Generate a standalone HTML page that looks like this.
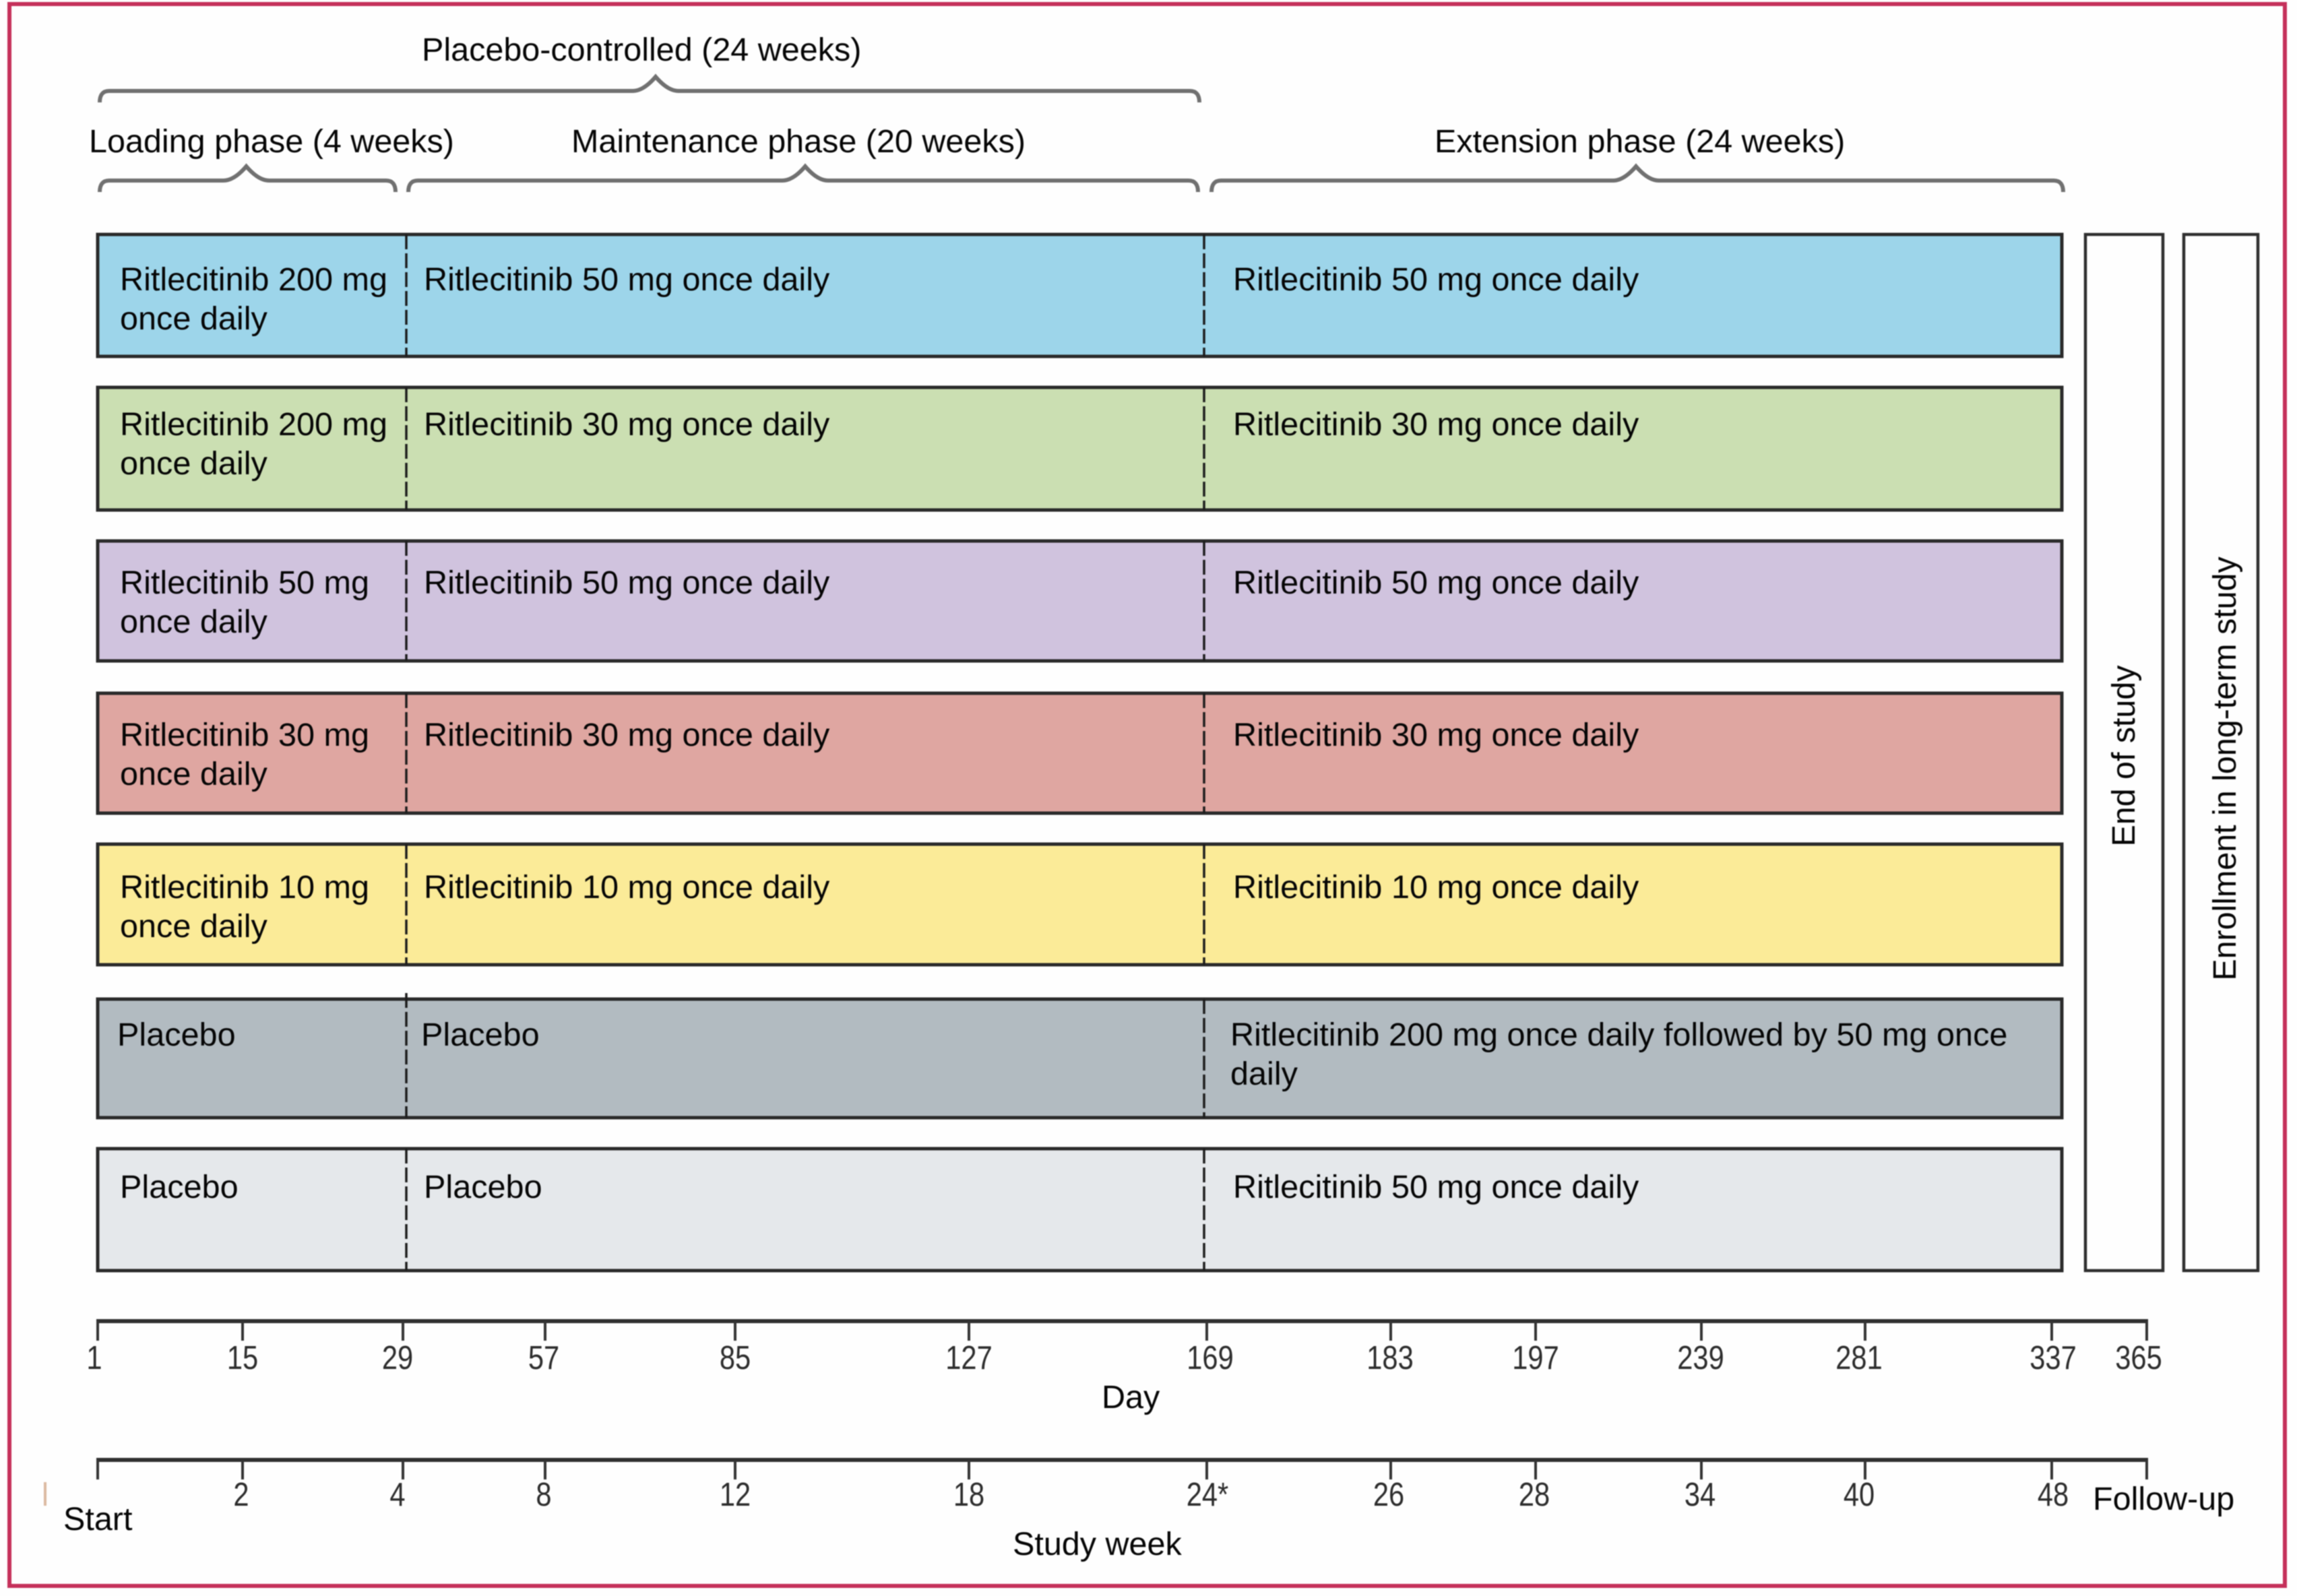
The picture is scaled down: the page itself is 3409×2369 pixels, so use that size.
<!DOCTYPE html>
<html lang="en">
<head>
<meta charset="utf-8">
<title>Ritlecitinib study design</title>
<style>
html,body{margin:0;padding:0;background:#fefefe;}
svg{display:block;filter:blur(0.8px);}
text{font-family:"Liberation Sans",Arial,sans-serif;fill:#050505;}
</style>
</head>
<body>
<svg id="chart" xmlns="http://www.w3.org/2000/svg" width="3409" height="2369" viewBox="0 0 3409 2369">
  <rect x="14" y="6" width="3377" height="2348" fill="#fefefe" stroke="#c5305a" stroke-width="6"/>
  <g id="braces"></g>
  <text x="626" y="90" font-size="48.5">Placebo-controlled (24 weeks)</text>
  <text x="132" y="226" font-size="48.5">Loading phase (4 weeks)</text>
  <text x="848" y="226" font-size="48.5">Maintenance phase (20 weeks)</text>
  <text x="2129" y="226" font-size="48.5">Extension phase (24 weeks)</text>
  <g id="arms"></g>
  <rect x="3095" y="348" width="115" height="1538" fill="#fefefe" stroke="#2e2e2e" stroke-width="4.5"/>
  <rect x="3241" y="348" width="110" height="1538" fill="#fefefe" stroke="#2e2e2e" stroke-width="4.5"/>
  <text transform="translate(3168,1122) rotate(-90)" text-anchor="middle" font-size="48.4">End of study</text>
  <text transform="translate(3318,1141) rotate(-90)" text-anchor="middle" font-size="48.4">Enrollment in long-term study</text>
  <g id="day-axis"></g>
  <g id="week-axis"></g>
  <text x="1635" y="2090" font-size="48.5">Day</text>
  <text x="1503" y="2308" font-size="48.5">Study week</text>
  <line x1="67" y1="2200" x2="67" y2="2235" stroke="#dcb9a0" stroke-width="4"/>
  <text x="94" y="2271" font-size="48.5">Start</text>
  <text x="3106" y="2241" font-size="48.5">Follow-up</text>
</svg>
<script>
/* ---------- chart data ---------- */
const dayTicks = [1, 15, 29, 57, 85, 127, 169, 183, 197, 239, 281, 337, 365];
const weekTicks = [0, 2, 4, 8, 12, 18, 24, 26, 28, 34, 40, 48, 52];
const weekTickLabels = ["", "2", "4", "8", "12", "18", "24*", "26", "28", "34", "40", "48", ""];
const phaseBoundaries = [1, 29, 169, 337];
const armColors = ["#9dd5ea", "#cbdfb2", "#d0c3de", "#dfa6a1", "#fbeb98", "#b2bbc1", "#e5e8eb"];
const loadingLabels = [
  "Ritlecitinib 200 mg\nonce daily", "Ritlecitinib 200 mg\nonce daily", "Ritlecitinib 50 mg\nonce daily",
  "Ritlecitinib 30 mg\nonce daily", "Ritlecitinib 10 mg\nonce daily", "Placebo", "Placebo"
];
const maintenanceLabels = [
  "Ritlecitinib 50 mg once daily", "Ritlecitinib 30 mg once daily", "Ritlecitinib 50 mg once daily",
  "Ritlecitinib 30 mg once daily", "Ritlecitinib 10 mg once daily", "Placebo", "Placebo"
];
const extensionLabels = [
  "Ritlecitinib 50 mg once daily", "Ritlecitinib 30 mg once daily", "Ritlecitinib 50 mg once daily",
  "Ritlecitinib 30 mg once daily", "Ritlecitinib 10 mg once daily",
  "Ritlecitinib 200 mg once daily followed by 50 mg once\ndaily", "Ritlecitinib 50 mg once daily"
];
const braceStartDays = [1, 1, 29, 169];
const braceEndDays = [169, 29, 169, 337];

/* ---------- scales and layout ---------- */
function piecewise(domain, range) {
  return function (v) {
    let i = 0;
    while (i < domain.length - 2 && v > domain[i + 1]) i++;
    const t = (v - domain[i]) / (domain[i + 1] - domain[i]);
    return range[i] + t * (range[i + 1] - range[i]);
  };
}
const axisPixelStops = [145, 360, 598, 809, 1091, 1438, 1791, 2064, 2279, 2525, 2768, 3045, 3186];
const dayX = piecewise([1, 15, 29, 57, 85, 127, 169, 183, 197, 239, 281, 337, 365], axisPixelStops);
const weekX = piecewise([0, 2, 4, 8, 12, 18, 24, 26, 28, 34, 40, 48, 52], axisPixelStops);
const barX = piecewise([1, 29, 169, 337], [145, 603, 1787, 3060]);
const rowTop = piecewise([0, 1, 2, 3, 4, 5, 6], [348, 575, 803, 1029, 1253, 1483, 1705]);
const rowBottom = piecewise([0, 1, 2, 3, 4, 5, 6], [529, 757, 981, 1207, 1432, 1659, 1886]);
const rowBaselineOffset = [83, 71, 78, 78, 80, 69, 73];
const phaseTextInset = [33, 26, 43];
const dayLabelNudge = [-5, 0, -8, -2, 0, 0, 5, -1, 0, -1, -9, 2, -12];
const weekLabelNudge = [0, -2, -8, -2, 0, 0, 1, -3, -2, -2, -9, 2, 0];
const braceInsetLeft = [3, 3, 3, 11];
const braceInsetRight = [-7, -16, -9, 2];
const bracePeakShift = [9, -2, 3, -2];
const braceLineY = [135, 268, 268, 268];

const NS = "http://www.w3.org/2000/svg";
function mk(tag, attrs, parent) {
  const el = document.createElementNS(NS, tag);
  for (const k in attrs) el.setAttribute(k, attrs[k]);
  parent.appendChild(el);
  return el;
}

/* ---------- braces ---------- */
const bracesG = document.getElementById("braces");
braceStartDays.forEach(function (startDay, i) {
  const l = barX(startDay) + braceInsetLeft[i];
  const r = barX(braceEndDays[i]) + braceInsetRight[i];
  const m = (l + r) / 2 + bracePeakShift[i];
  const y = braceLineY[i];
  const b = y + 17;
  const d = "M" + l + " " + b + " Q" + l + " " + y + " " + (l + 14) + " " + y +
    " L" + (m - 34) + " " + y + " Q" + (m - 18) + " " + y + " " + m + " " + (y - 21) +
    " Q" + (m + 18) + " " + y + " " + (m + 34) + " " + y +
    " L" + (r - 14) + " " + y + " Q" + r + " " + y + " " + r + " " + b;
  const brace = mk("path", { d: d, fill: "none", stroke: "#707070", "stroke-width": 6 }, bracesG);
  
  
});

/* ---------- treatment arms ---------- */
const armsG = document.getElementById("arms");
armColors.forEach(function (color, row) {
  const top = rowTop(row), bottom = rowBottom(row);
  const left = barX(phaseBoundaries[0]);
  const right = barX(phaseBoundaries[3]);
  const bar = mk("rect", { x: left, y: top, width: right - left, height: bottom - top, fill: color, stroke: "#2a2a2a", "stroke-width": 5 }, armsG);
  
  

  [phaseBoundaries[1], phaseBoundaries[2]].forEach(function (day) {
    const x = barX(day);
    const overhang = (row === 5 && day === phaseBoundaries[1]) ? 9 : 0;
    const dash = mk("line", { x1: x, x2: x, y1: top - overhang, y2: bottom, stroke: "#1c1c1c", "stroke-width": 3.5, "stroke-dasharray": "22 6" }, armsG);
    
    
  });

  [loadingLabels, maintenanceLabels, extensionLabels].forEach(function (labels, phase) {
    const shift = row === 5 ? -4 : 0;
    const x = barX(phaseBoundaries[phase]) + phaseTextInset[phase] + shift;
    labels[row].split("\n").forEach(function (lineText, n) {
      const t = mk("text", { x: x, y: top + rowBaselineOffset[row] + n * 58, "font-size": 48.6 }, armsG);
      
      
      t.textContent = lineText;
    });
  });
});

/* ---------- axes ---------- */
function drawAxis(group, ticks, scale, labels, nudge, lineY, baseline) {
  const axis = mk("line", { x1: scale(ticks[0]) - 2, x2: scale(ticks[ticks.length - 1]) + 2, y1: lineY, y2: lineY, stroke: "#2f2f2f", "stroke-width": 6 }, group);
  
  
  ticks.forEach(function (value, i) {
    const x = scale(value);
    const tick = mk("line", { x1: x, x2: x, y1: lineY, y2: lineY + 29, stroke: "#333", "stroke-width": 4 }, group);
    
    
    if (labels[i] !== "") {
      const t = mk("text", { transform: "translate(" + (x + nudge[i]) + "," + baseline + ") scale(0.85,1)", "text-anchor": "middle", "font-size": 49, style: "fill:#2c2c2c" }, group);
      
      
      t.textContent = labels[i];
    }
  });
}
drawAxis(document.getElementById("day-axis"), dayTicks, dayX, dayTicks.map(String), dayLabelNudge, 1961, 2032);
drawAxis(document.getElementById("week-axis"), weekTicks, weekX, weekTickLabels, weekLabelNudge, 2167, 2235);
</script>
</body>
</html>
